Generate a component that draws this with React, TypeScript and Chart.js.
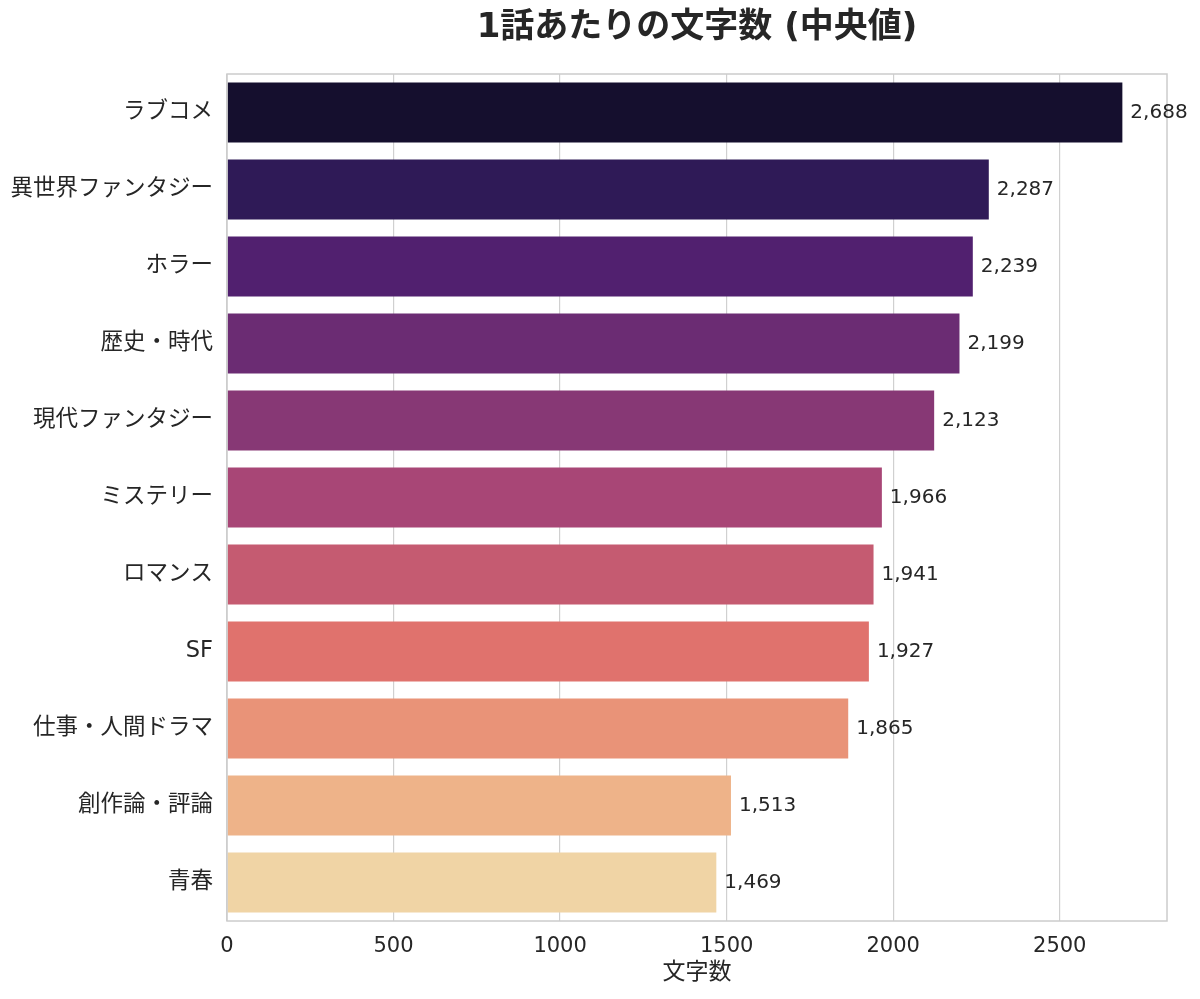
import React, { useEffect, useRef } from "react";
import { Chart, registerables } from "chart.js";

Chart.register(...registerables);

const categories = [
  "ラブコメ",
  "異世界ファンタジー",
  "ホラー",
  "歴史・時代",
  "現代ファンタジー",
  "ミステリー",
  "ロマンス",
  "SF",
  "仕事・人間ドラマ",
  "創作論・評論",
  "青春",
];
const values = [2688, 2287, 2239, 2199, 2123, 1966, 1941, 1927, 1865, 1513, 1469];
const xTickValues = [0, 500, 1000, 1500, 2000, 2500];
const barColors = [
  "#150f2e",
  "#2f1a57",
  "#51206f",
  "#6b2c73",
  "#873875",
  "#a84676",
  "#c55b71",
  "#e0726d",
  "#e99378",
  "#eeb389",
  "#f0d4a5",
];
const xTitle = "文字数";
const chartTitle = "1話あたりの文字数 (中央値)";

const FONT = "'DejaVu Sans', 'Noto Sans CJK JP', sans-serif";

const framePlugin = {
  id: "frame",
  afterDatasetsDraw(chart: any) {
    const { ctx, chartArea } = chart;
    ctx.save();
    ctx.strokeStyle = "#cccccc";
    ctx.lineWidth = 1.5;
    ctx.strokeRect(chartArea.left, chartArea.top, chartArea.right - chartArea.left, chartArea.bottom - chartArea.top);
    ctx.restore();
  },
};

const titlePlugin = {
  id: "centerTitle",
  afterDraw(chart: any) {
    const { ctx, chartArea } = chart;
    ctx.save();
    ctx.font = `bold 34px ${FONT}`;
    ctx.fillStyle = "#262626";
    ctx.textAlign = "center";
    ctx.textBaseline = "middle";
    ctx.fillText(chartTitle, (chartArea.left + chartArea.right) / 2, 28);
    ctx.restore();
  },
};

const labelPlugin = {
  id: "valueLabels",
  afterDatasetsDraw(chart: any) {
    const { ctx } = chart;
    const meta = chart.getDatasetMeta(0);
    ctx.save();
    ctx.font = `20px ${FONT}`;
    ctx.fillStyle = "#262626";
    ctx.textAlign = "left";
    ctx.textBaseline = "middle";
    meta.data.forEach((bar: any, i: number) => {
      const v = values[i];
      ctx.fillText(v.toLocaleString("en-US"), bar.x + 8, bar.y);
    });
    ctx.restore();
  },
};

export default function App() {
  const ref = useRef<HTMLCanvasElement | null>(null);
  useEffect(() => {
    document.body.style.margin = "0";
    if (!ref.current) return;
    const chart = new Chart(ref.current, {
      type: "bar",
      data: {
        labels: categories,
        datasets: [
          {
            data: values,
            backgroundColor: barColors,
            borderWidth: 0,
            barPercentage: 0.78,
            categoryPercentage: 1,
          },
        ],
      },
      options: {
        indexAxis: "y",
        animation: false,
        responsive: false,
        maintainAspectRatio: false,
        layout: { padding: { left: 0, right: 33, top: 74, bottom: 12 } },
        plugins: {
          legend: { display: false },
          tooltip: { enabled: false },
          title: { display: false },
        },
        scales: {
          x: {
            min: 0,
            max: 2822,
            afterBuildTicks(scale: any) {
              scale.ticks = xTickValues.map((v) => ({ value: v }));
            },
            afterFit(scale: any) {
              scale.height = 66;
            },
            ticks: {
              color: "#262626",
              font: { family: FONT, size: 21 },
              padding: 13,
              callback: (v: any) => String(v),
            },
            grid: { color: "#d0d0d0", lineWidth: 1.2, drawTicks: false },
            border: { display: false },
            title: {
              display: true,
              text: xTitle,
              color: "#262626",
              font: { family: FONT, size: 23 },
              padding: { top: 0, bottom: 0 },
            },
          },
          y: {
            afterFit(scale: any) {
              scale.width = 227;
            },
            ticks: {
              color: "#262626",
              font: { family: FONT, size: 22.5 },
              padding: 14,
            },
            grid: { display: false, drawTicks: false },
            border: { display: false },
          },
        },
      },
      plugins: [framePlugin, labelPlugin, titlePlugin],
    });
    return () => chart.destroy();
  }, []);
  return (
    <div style={{ width: 1200, height: 999 }}>
      <canvas ref={ref} width={1200} height={999} style={{ display: "block" }} />
    </div>
  );
}
